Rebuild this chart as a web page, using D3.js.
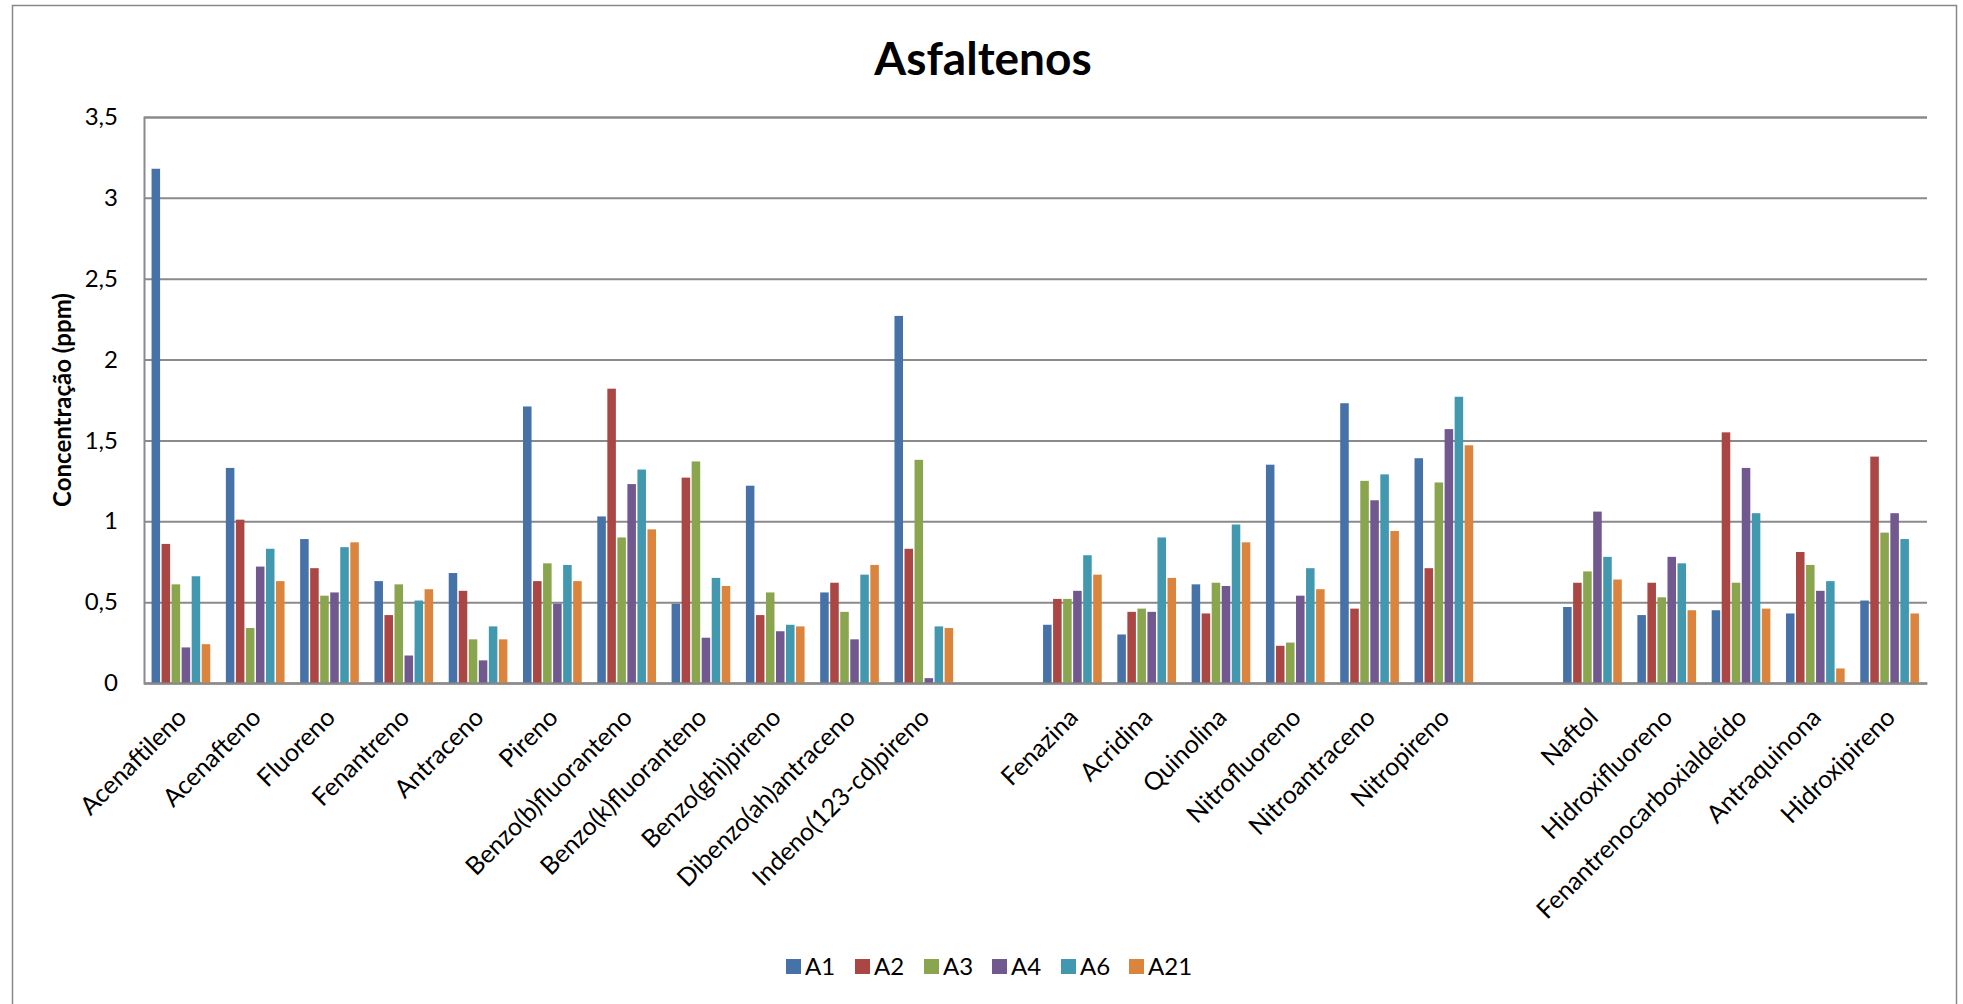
<!DOCTYPE html>
<html>
<head>
<meta charset="utf-8">
<script src="https://cdn.jsdelivr.net/npm/d3@7"></script>
<style>
  html, body { margin: 0; padding: 0; background: #fff; }
  svg { display: block; font-family: Lato, "Open Sans", sans-serif; }
</style>
</head>
<body>
<svg id="chart" width="1963" height="1004"></svg>
<script>
// Compounds on the x axis; empty entries are spacer slots between compound families
const categories = [
  "Acenaftileno", "Acenafteno", "Fluoreno", "Fenantreno", "Antraceno", "Pireno",
  "Benzo(b)fluoranteno", "Benzo(k)fluoranteno", "Benzo(ghi)pireno",
  "Dibenzo(ah)antraceno", "Indeno(123-cd)pireno",
  "",
  "Fenazina", "Acridina", "Quinolina", "Nitrofluoreno", "Nitroantraceno", "Nitropireno",
  "",
  "Naftol", "Hidroxifluoreno", "Fenantrenocarboxialdeído", "Antraquinona", "Hidroxipireno"
];

const seriesNames = ["A1", "A2", "A3", "A4", "A6", "A21"];

// Concentrations (ppm), one value per compound (null for spacer slots)
const A1  = [3.18, 1.33, 0.89, 0.63, 0.68, 1.71, 1.03, 0.49, 1.22, 0.56, 2.27, null, 0.36, 0.30, 0.61, 1.35, 1.73, 1.39, null, 0.47, 0.42, 0.45, 0.43, 0.51];
const A2  = [0.86, 1.01, 0.71, 0.42, 0.57, 0.63, 1.82, 1.27, 0.42, 0.62, 0.83, null, 0.52, 0.44, 0.43, 0.23, 0.46, 0.71, null, 0.62, 0.62, 1.55, 0.81, 1.40];
const A3  = [0.61, 0.34, 0.54, 0.61, 0.27, 0.74, 0.90, 1.37, 0.56, 0.44, 1.38, null, 0.52, 0.46, 0.62, 0.25, 1.25, 1.24, null, 0.69, 0.53, 0.62, 0.73, 0.93];
const A4  = [0.22, 0.72, 0.56, 0.17, 0.14, 0.49, 1.23, 0.28, 0.32, 0.27, 0.03, null, 0.57, 0.44, 0.60, 0.54, 1.13, 1.57, null, 1.06, 0.78, 1.33, 0.57, 1.05];
const A6  = [0.66, 0.83, 0.84, 0.51, 0.35, 0.73, 1.32, 0.65, 0.36, 0.67, 0.35, null, 0.79, 0.90, 0.98, 0.71, 1.29, 1.77, null, 0.78, 0.74, 1.05, 0.63, 0.89];
const A21 = [0.24, 0.63, 0.87, 0.58, 0.27, 0.63, 0.95, 0.60, 0.35, 0.73, 0.34, null, 0.67, 0.65, 0.87, 0.58, 0.94, 1.47, null, 0.64, 0.45, 0.46, 0.09, 0.43];

const yTicks = [0, 0.5, 1, 1.5, 2, 2.5, 3, 3.5];
const yTickLabels = ["0", "0,5", "1", "1,5", "2", "2,5", "3", "3,5"];

const seriesValues = [A1, A2, A3, A4, A6, A21];
const colors = ["#4672A8", "#AA4643", "#89A54E", "#71588F", "#4198AF", "#DB843D"];

const svg = d3.select("#chart");

// outer chart frame
svg.append("rect")
  .attr("x", 12.5).attr("y", 5.5)
  .attr("width", 1944).attr("height", 1010)
  .attr("fill", "#fff").attr("stroke", "#888").attr("stroke-width", 1.5);

const plot = { left: 144, right: 1927, top: 117, bottom: 683 };

// unique keys so that the two spacer slots get their own bands
const keys = categories.map((c, i) => i);

const x0 = d3.scaleBand()
  .domain(keys)
  .range([plot.left, plot.right])
  .paddingInner(0.19)
  .paddingOuter(0.095);

const x1 = d3.scaleBand()
  .domain(seriesNames)
  .range([0, x0.bandwidth()]);

const y = d3.scaleLinear()
  .domain([0, 3.5])
  .range([plot.bottom, plot.top]);

// horizontal gridlines
const yAxis = d3.axisLeft(y)
  .tickValues(yTicks)
  .tickSize(-(plot.right - plot.left))
  .tickPadding(26)
  .tickFormat((d, i) => yTickLabels[i]);

const gy = svg.append("g")
  .attr("transform", `translate(${plot.left},0)`)
  .call(yAxis);
gy.select(".domain").attr("stroke", "#8a8a8a").attr("stroke-width", 2);
gy.selectAll(".tick line").attr("stroke", "#8a8a8a").attr("stroke-width", 2);
gy.selectAll(".tick text")
  .attr("fill", "#000")
  .style("font-size", "24px")
  .style("font-family", "Lato, 'Open Sans', sans-serif");

// bars
const rows = keys.map(k => ({ key: k, values: seriesNames.map((s, j) => ({ s, j, v: seriesValues[j][k] })) }));

svg.append("g")
  .selectAll("g")
  .data(rows)
  .join("g")
  .attr("transform", d => `translate(${x0(d.key)},0)`)
  .selectAll("rect")
  .data(d => d.values.filter(e => e.v !== null))
  .join("rect")
  .attr("x", d => x1(d.s) + 0.5)
  .attr("y", d => y(d.v))
  .attr("width", x1.bandwidth() - 1.5)
  .attr("height", d => y(0) - y(d.v))
  .attr("fill", d => colors[d.j]);

// category axis
const xAxis = d3.axisBottom(x0)
  .tickSize(0)
  .tickFormat(k => categories[k]);

const gx = svg.append("g")
  .attr("transform", `translate(0,${plot.bottom})`)
  .call(xAxis);
gx.select(".domain").attr("stroke", "#8a8a8a").attr("stroke-width", 2);
gx.selectAll(".tick text")
  .attr("fill", "#000")
  .style("font-size", "25px")
  .style("font-family", "Lato, 'Open Sans', sans-serif")
  .attr("text-anchor", "end")
  .attr("dy", null)
  .attr("y", 0)
  .attr("transform", "translate(7,36) rotate(-45)");

// title
svg.append("text")
  .attr("x", 983).attr("y", 75)
  .attr("text-anchor", "middle")
  .style("font-size", "46px")
  .style("font-weight", "bold")
  .text("Asfaltenos");

// y axis title
svg.append("text")
  .attr("transform", `translate(71,${(plot.top + plot.bottom) / 2}) rotate(-90)`)
  .attr("text-anchor", "middle")
  .style("font-size", "24px")
  .style("font-weight", "bold")
  .text("Concentração (ppm)");

// legend
const legendX = [786, 855, 924, 992, 1061, 1129];
const legend = svg.append("g");
seriesNames.forEach((s, i) => {
  const g = legend.append("g").attr("transform", `translate(${legendX[i]},959)`);
  g.append("rect").attr("width", 15).attr("height", 15).attr("fill", colors[i]);
  g.append("text").attr("x", 19).attr("y", 16)
    .style("font-size", "24px")
    .text(s);
});
</script>
</body>
</html>
